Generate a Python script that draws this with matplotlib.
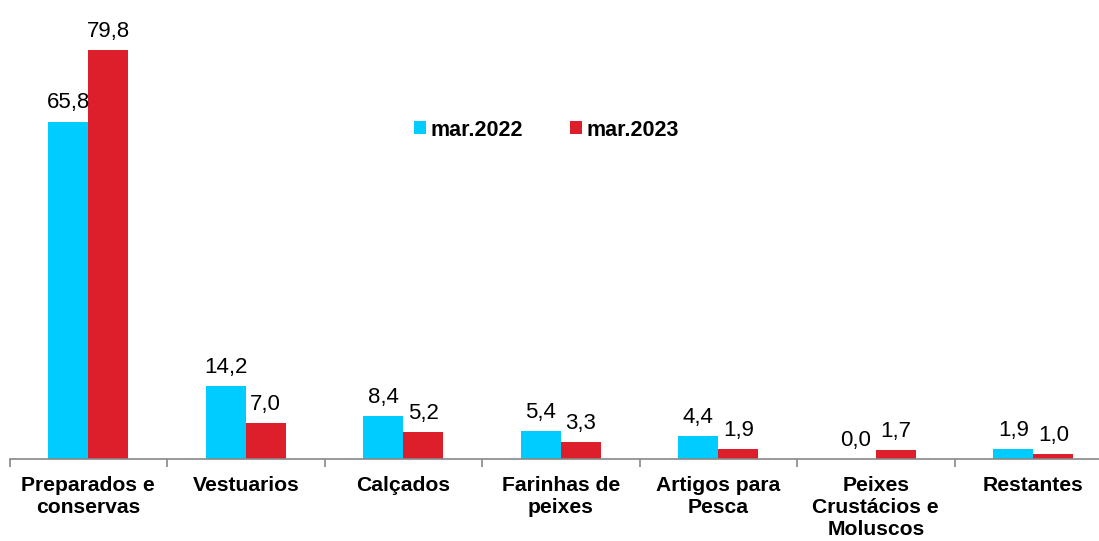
import matplotlib.pyplot as plt
import numpy as np

plt.rcParams['font.family'] = ['Liberation Sans', 'DejaVu Sans']

categories = ["Preparados e\nconservas", "Vestuarios", "Calçados", "Farinhas de\npeixes",
              "Artigos para\nPesca", "Peixes\nCrustácios e\nMoluscos", "Restantes"]
mar2022 = [65.8, 14.2, 8.4, 5.4, 4.4, 0.0, 1.9]
mar2023 = [79.8, 7.0, 5.2, 3.3, 1.9, 1.7, 1.0]
series_names = ["mar.2022", "mar.2023"]

cyan = "#00CCFF"
red = "#DD1F2B"

fig = plt.figure(figsize=(10.99, 5.41), dpi=100)
ax = fig.add_axes([9.5 / 1099, 82 / 541, 7 * 157.5 / 1099, 459 / 541])

x = np.arange(len(categories))
w = 0.254
b1 = ax.bar(x - w / 2, mar2022, w, color=cyan, label=series_names[0])
b2 = ax.bar(x + w / 2, mar2023, w, color=red, label=series_names[1])

for bars, vals in ((b1, mar2022), (b2, mar2023)):
    for r, v in zip(bars, vals):
        ax.annotate(f"{v:.1f}".replace(".", ","), (r.get_x() + r.get_width() / 2, v),
                    xytext=(0, 6), textcoords="offset points", ha="center", va="bottom",
                    fontsize=16)

ax.set_xlim(-0.5, len(categories) - 0.5)
ax.set_ylim(0, 459 / 5.125)

for s in ("top", "right", "left"):
    ax.spines[s].set_visible(False)
ax.spines["bottom"].set_color("#888888")
ax.spines["bottom"].set_linewidth(1.2)
ax.set_yticks([])

ax.set_xticks(np.arange(len(categories) + 1) - 0.5)
ax.set_xticklabels([])
ax.tick_params(axis="x", length=6, color="#888888", width=1.2)
for i, c in enumerate(categories):
    ax.text(i, -3.4, c, ha="center", va="top", fontsize=15.2, fontweight="bold",
            linespacing=1.2, transform=ax.transData)

ax.legend(loc="center left", bbox_to_anchor=((414 - 9.5) / 1102.5, 1 - 130 / 459), ncol=2,
          frameon=False, prop={"size": 15.5, "weight": "bold"}, handlelength=0.56,
          handleheight=0.56, handletextpad=0.2, columnspacing=2.2, borderpad=0,
          borderaxespad=0)

fig.savefig("out.png", dpi=100)
